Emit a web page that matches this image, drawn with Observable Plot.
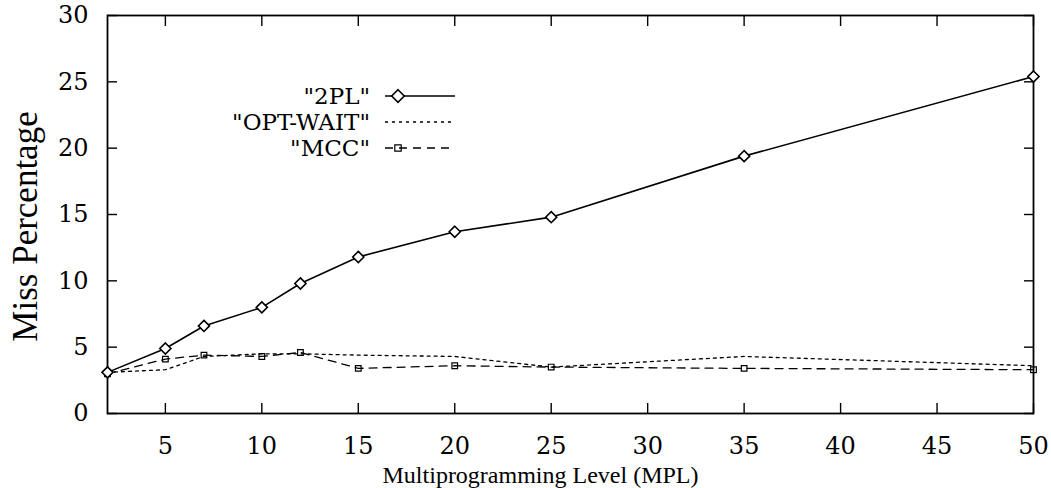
<!DOCTYPE html>
<html>
<head>
<meta charset="utf-8">
<script src="https://cdn.jsdelivr.net/npm/d3@7"></script>
<script src="https://cdn.jsdelivr.net/npm/@observablehq/plot@0.6"></script>
<style>
  body { margin: 0; background: #fff; }
  #chart svg { display: block; }
</style>
</head>
<body>
<div id="chart"></div>
<script>
// Multiprogramming level (x) and miss percentage for each protocol (y)
const mpl = [2, 5, 7, 10, 12, 15, 20, 25, 35, 50];
const miss2PL = [3.1, 4.9, 6.6, 8.0, 9.8, 11.8, 13.7, 14.8, 19.4, 25.4];
const missOptWait = [3.1, 3.3, 4.3, 4.5, 4.5, 4.4, 4.3, 3.5, 4.3, 3.6];
const missMCC = [3.0, 4.1, 4.4, 4.3, 4.6, 3.4, 3.6, 3.5, 3.4, 3.3];

const seriesNames = ['"2PL"', '"OPT-WAIT"', '"MCC"'];
const xTicks = [5, 10, 15, 20, 25, 30, 35, 40, 45, 50];
const yTicks = [0, 5, 10, 15, 20, 25, 30];
const xLabel = "Multiprogramming Level (MPL)";
const yLabel = "Miss Percentage";

const rows = (ys) => mpl.map((x, i) => ({x, y: ys[i]}));
const d2PL = rows(miss2PL);
const dOpt = rows(missOptWait);
const dMCC = rows(missMCC);

const serif = "'DejaVu Serif', serif";
const times = "'Liberation Serif', 'Times New Roman', serif";
const blank = () => "";

const chart = Plot.plot({
  width: 1051,
  height: 488,
  marginLeft: 107,
  marginRight: 18,
  marginTop: 15,
  marginBottom: 75,
  style: {fontFamily: serif, fontSize: "24px", color: "black", background: "white"},
  x: {domain: [2, 50]},
  y: {domain: [0, 30]},
  marks: [
    // inward ticks on all four sides, labels only bottom and left
    Plot.axisX(xTicks, {anchor: "bottom", tickSize: -10, tickPadding: 33, strokeWidth: 1.4, label: null, fontSize: 24}),
    Plot.axisX(xTicks, {anchor: "top", tickSize: -10, strokeWidth: 1.4, tickFormat: blank, label: null}),
    Plot.axisY(yTicks, {anchor: "left", tickSize: -10, tickPadding: 29, strokeWidth: 1.4, label: null, fontSize: 24}),
    Plot.axisY(yTicks, {anchor: "right", tickSize: -10, strokeWidth: 1.4, tickFormat: blank, label: null}),
    Plot.frame({stroke: "black", strokeWidth: 1.8}),

    // OPT-WAIT: dotted
    Plot.line(dOpt, {x: "x", y: "y", stroke: "black", strokeWidth: 1.3, strokeDasharray: "3,4"}),
    // MCC: dashed with small squares
    Plot.line(dMCC, {x: "x", y: "y", stroke: "black", strokeWidth: 1.3, strokeDasharray: "8,6"}),
    Plot.dot(dMCC, {x: "x", y: "y", symbol: "square2", r: 3.6, stroke: "black", strokeWidth: 1.2, fill: "none"}),
    // 2PL: solid with diamonds
    Plot.line(d2PL, {x: "x", y: "y", stroke: "black", strokeWidth: 1.6}),
    Plot.dot(d2PL, {x: "x", y: "y", symbol: "diamond2", r: 5, stroke: "black", strokeWidth: 1.6, fill: "white"}),

    Plot.text([xLabel], {frameAnchor: "bottom", dx: -30, dy: 62, fontFamily: times, fontSize: 24, lineAnchor: "middle"}),
    Plot.text([yLabel], {frameAnchor: "left", textAnchor: "middle", dx: -82, dy: 12, rotate: -90, fontFamily: times, fontSize: 35, lineAnchor: "middle"})
  ]
});

document.getElementById("chart").appendChild(chart);

// Legend in the upper-left of the plot area
const svg = d3.select(chart);
const legend = svg.append("g").attr("font-family", serif).attr("font-size", 23).attr("fill", "black");
const styles = [
  {dash: null, marker: "diamond"},
  {dash: "3,4", marker: null},
  {dash: "8,6", marker: "square"}
];
const rowY = [96, 122, 148];
seriesNames.forEach((name, i) => {
  const y = rowY[i];
  legend.append("text").attr("x", 370).attr("y", y).attr("dy", "0.35em").attr("text-anchor", "end").text(name);
  legend.append("line").attr("x1", 385).attr("x2", 455).attr("y1", y).attr("y2", y)
    .attr("stroke", "black").attr("stroke-width", i === 0 ? 1.6 : 1.3)
    .attr("stroke-dasharray", styles[i].dash);
  if (styles[i].marker === "diamond") {
    legend.append("path").attr("d", d3.symbol(d3.symbolDiamond2, 100)())
      .attr("transform", `translate(398,${y})`).attr("fill", "white").attr("stroke", "black").attr("stroke-width", 1.6);
  } else if (styles[i].marker === "square") {
    legend.append("path").attr("d", d3.symbol(d3.symbolSquare2, 52)())
      .attr("transform", `translate(398,${y})`).attr("fill", "none").attr("stroke", "black").attr("stroke-width", 1.2);
  }
});
</script>
</body>
</html>
